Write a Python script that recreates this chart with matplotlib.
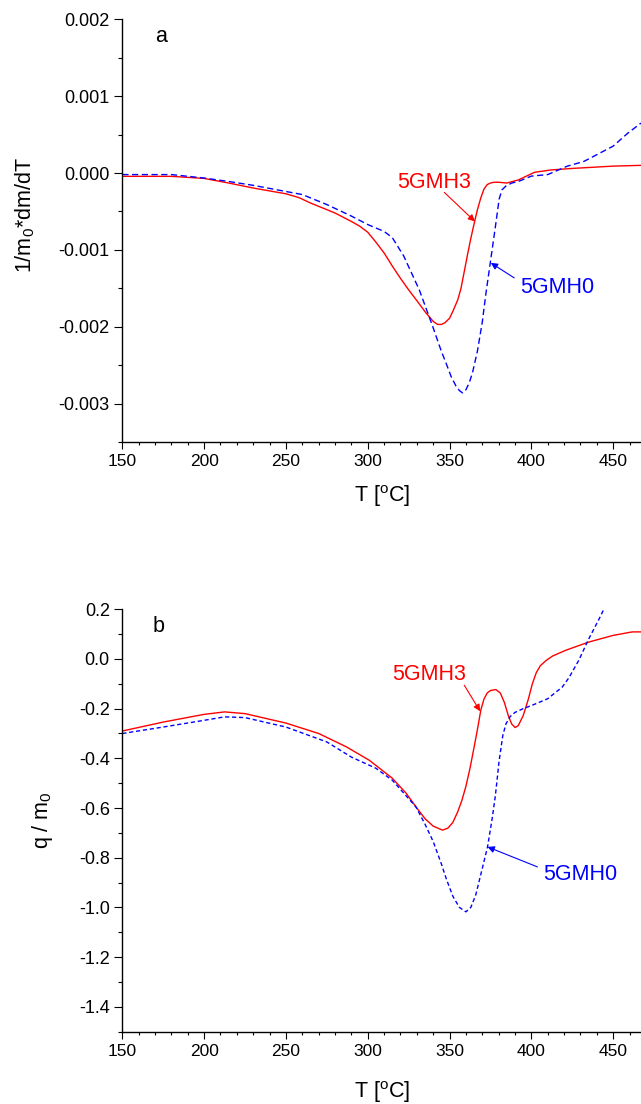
import matplotlib
matplotlib.use("Agg")
import matplotlib.pyplot as plt
from matplotlib.ticker import MultipleLocator, FormatStrFormatter

plt.rcParams['font.family'] = ['Liberation Sans', 'DejaVu Sans']
plt.rcParams['mathtext.default'] = 'regular'
plt.rcParams['axes.unicode_minus'] = False

# panel a: 1/m0*dm/dT
T_a_h3 = [150, 180, 200, 215, 230, 250, 258, 265, 280, 290, 295, 300, 305, 310,
          315, 320, 325, 330, 335.6, 340, 342.7, 345, 347, 350, 352, 355, 357,
          359, 361, 363, 365, 367, 369, 371, 373, 375, 377, 380, 385, 392, 402,
          412, 425, 450, 467]
dm_h3 = [-0.000043, -0.000043, -0.00007, -0.00013, -0.000195, -0.00027, -0.00032,
         -0.00039, -0.00052, -0.00063, -0.00069, -0.00077, -0.0009, -0.00104,
         -0.00121, -0.00137, -0.00152, -0.00166, -0.00182, -0.00193, -0.00197,
         -0.00197, -0.00195, -0.00189, -0.0018, -0.00165, -0.0015, -0.00128,
         -0.00106, -0.00085, -0.00066, -0.00048, -0.00033, -0.00021, -0.00015,
         -0.00013, -0.00012, -0.00012, -0.00013, -0.00009, 0.00001, 0.00004,
         0.00006, 0.00009, 0.0001]

T_a_h0 = [150, 180, 200, 215, 230, 250, 260, 275, 290, 300, 310, 315, 322, 331.5,
          339.6, 345, 347.8, 351, 353.9, 356, 357.9, 360, 362, 364, 367, 370,
          372.2, 375.2, 378, 380.3, 382, 384.4, 388, 392, 400, 410, 422, 432,
          450, 459, 467]
dm_h0 = [-0.00002, -0.00002, -0.000065, -0.00011, -0.00016, -0.00024, -0.00028,
         -0.00041, -0.00056, -0.00067, -0.00076, -0.00084, -0.00108, -0.00152,
         -0.00199, -0.00232, -0.00247, -0.00265, -0.00277, -0.00283, -0.00286,
         -0.00282, -0.00273, -0.0026, -0.00232, -0.00194, -0.00157, -0.00112,
         -0.0007, -0.00034, -0.00022, -0.00017, -0.00013, -0.00011, -0.00004,
         -0.00002, 0.00009, 0.00015, 0.00035, 0.00052, 0.00065]

# panel b: q / m0
T_b_h3 = [150, 175, 200, 212.5, 225, 250, 270, 287, 301, 315, 323.4, 330, 335,
          340, 345.7, 349, 352, 355, 357.5, 359.9, 362.5, 365, 367, 369.1, 371,
          373, 375, 378.3, 381, 383.5, 386, 388, 390.1, 392, 395, 398, 400.6,
          403, 405.5, 409, 413, 421, 435, 450, 461.6, 467]
q_h3 = [-0.29, -0.254, -0.223, -0.213, -0.22, -0.258, -0.30, -0.354, -0.408,
        -0.48, -0.54, -0.60, -0.643, -0.673, -0.689, -0.681, -0.658, -0.615,
        -0.57, -0.515, -0.44, -0.355, -0.285, -0.206, -0.162, -0.137, -0.127,
        -0.123, -0.137, -0.175, -0.23, -0.262, -0.276, -0.268, -0.228, -0.165,
        -0.1, -0.055, -0.027, -0.006, 0.012, 0.035, 0.068, 0.095, 0.109, 0.109]

T_b_h0 = [150, 175, 200, 212.5, 225, 250, 275, 290, 305, 315, 322, 329.5, 335,
          340, 345, 348, 352, 356, 360, 363, 366, 369, 373.2, 376.2, 378, 380.3,
          382.5, 384.4, 387, 390, 395, 400.6, 410, 418.9, 423, 429, 435, 441,
          444.5]
q_h0 = [-0.30, -0.274, -0.247, -0.233, -0.236, -0.274, -0.334, -0.395, -0.44,
        -0.488, -0.54, -0.596, -0.665, -0.735, -0.825, -0.885, -0.955, -1.0,
        -1.018, -1.0, -0.95, -0.87, -0.757, -0.636, -0.55, -0.41, -0.31, -0.262,
        -0.232, -0.215, -0.2, -0.186, -0.16, -0.113, -0.075, -0.005, 0.08, 0.156,
        0.203]

RED = '#ff0000'
BLUE = '#0000ff'
FS = 15.5

fig = plt.figure(figsize=(6.41, 11.04), dpi=100)
ax1 = fig.add_axes([0.1908, 0.5996, 0.8092, 0.3829])
ax2 = fig.add_axes([0.1908, 0.0656, 0.8092, 0.3825])

ax1.plot(T_a_h3, dm_h3, color=RED, lw=1.0)
ax1.plot(T_a_h0, dm_h0, color=BLUE, lw=1.0, linestyle=(0, (4.5, 2.5)))
ax2.plot(T_b_h3, q_h3, color=RED, lw=1.0)
ax2.plot(T_b_h0, q_h0, color=BLUE, lw=1.0, linestyle=(0, (3, 2)))

ax1.set_xlim(150, 467)
ax1.set_ylim(-0.0035, 0.002)
ax2.set_xlim(150, 467)
ax2.set_ylim(-1.5, 0.2)

for ax in (ax1, ax2):
    ax.spines['top'].set_visible(False)
    ax.spines['right'].set_visible(False)
    ax.spines['left'].set_linewidth(1.0)
    ax.spines['bottom'].set_linewidth(1.0)
    ax.xaxis.set_major_locator(MultipleLocator(50))
    ax.xaxis.set_minor_locator(MultipleLocator(10))
    ax.tick_params(axis='x', which='major', length=4.8, width=0.8, pad=4, labelsize=12.5)
    ax.tick_params(axis='x', which='minor', length=2.4, width=0.8)
    ax.tick_params(axis='y', which='major', length=6, width=0.8, pad=3, labelsize=13)
    ax.tick_params(axis='y', which='minor', length=3, width=0.8)
    ax.set_xlabel('T [$^{o}$C]', fontsize=FS)

ax1.yaxis.set_major_locator(MultipleLocator(0.001))
ax1.yaxis.set_minor_locator(MultipleLocator(0.0005))
ax1.yaxis.set_major_formatter(FormatStrFormatter('%.3f'))
ax2.yaxis.set_major_locator(MultipleLocator(0.2))
ax2.yaxis.set_minor_locator(MultipleLocator(0.1))
ax2.yaxis.set_major_formatter(FormatStrFormatter('%.1f'))

ax1.set_ylabel('1/m$_0$*dm/dT', fontsize=FS)
ax2.set_ylabel('q / m$_0$', fontsize=FS)
ax1.yaxis.set_label_coords(-0.165, 0.537)
ax2.yaxis.set_label_coords(-0.130, 0.5)
ax1.xaxis.set_label_coords(0.5, -0.097)
ax2.xaxis.set_label_coords(0.5, -0.113)

ax1.text(173.4, 0.00177, 'a', fontsize=FS, ha='center', va='center')
ax2.text(172.2, 0.129, 'b', fontsize=FS, ha='center', va='center')

arrow_kw = dict(arrowstyle='-|>', lw=0.8, mutation_scale=10, shrinkA=0, shrinkB=0)

ax1.annotate('', xy=(365.5, -0.00063), xytext=(346.8, -0.000252),
             arrowprops=dict(color=RED, **arrow_kw))
ax1.text(340.5, -0.000126, '5GMH3', color=RED, fontsize=FS, ha='center', va='center')
ax1.annotate('', xy=(375.2, -0.001169), xytext=(389.5, -0.001364),
             arrowprops=dict(color=BLUE, **arrow_kw))
ax1.text(415.7, -0.00149, '5GMH0', color=BLUE, fontsize=FS, ha='center', va='center')

ax2.annotate('', xy=(368.7, -0.2105), xytext=(359.0, -0.1058),
             arrowprops=dict(color=RED, **arrow_kw))
ax2.text(337.6, -0.0616, '5GMH3', color=RED, fontsize=FS, ha='center', va='center')
ax2.annotate('', xy=(373.2, -0.7565), xytext=(403.7, -0.837),
             arrowprops=dict(color=BLUE, **arrow_kw))
ax2.text(430.0, -0.866, '5GMH0', color=BLUE, fontsize=FS, ha='center', va='center')

fig.savefig('out.png', dpi=100)
